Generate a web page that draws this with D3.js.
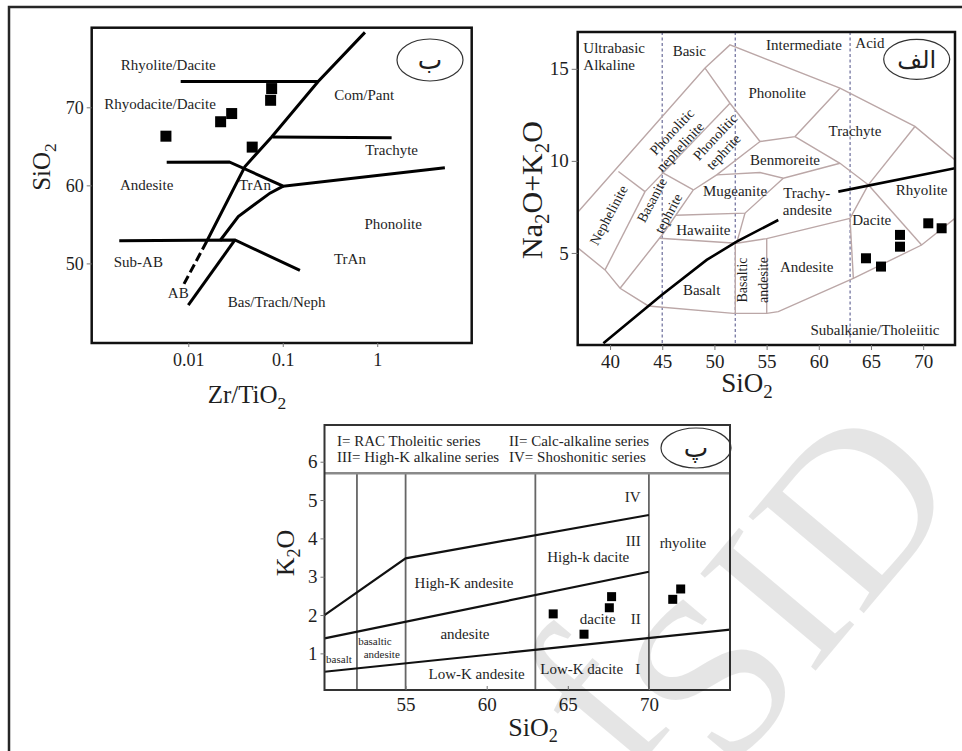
<!DOCTYPE html>
<html>
<head>
<meta charset="utf-8">
<script src="https://cdn.jsdelivr.net/npm/d3@7"></script>
<style>
  body { margin: 0; background: #fff; }
  svg text { font-family: "Liberation Serif", "Times New Roman", serif; fill: #1e1e1e; }
</style>
</head>
<body>
<div id="chart"></div>
<script>
// ---- panel ب : SiO2 vs Zr/TiO2 (Winchester & Floyd) ----
const wfTicksX = [0.01, 0.1, 1];
const wfTicksY = [50, 60, 70];
const wfSamples = [[0.0763, 72.4], [0.0744, 70.9], [0.0288, 69.2], [0.022, 68.15], [0.0058, 66.3], [0.0475, 64.9]];
const wfSolidLines = [
  [[0.00831, 73.3], [0.2373, 73.3]],
  [[0.741, 79.6], [0.237, 73.3], [0.0763, 66.2], [0.0398, 62.4], [0.01565, 52.8]],
  [[0.0782, 66.2], [1.42, 66.1]],
  [[0.00591, 62.95], [0.02715, 63.0], [0.1012, 59.9], [5.2, 62.26]],
  [[0.02164, 52.9], [0.0338, 56.0], [0.0732, 59.0], [0.1012, 59.9]],
  [[0.00186, 52.9], [0.0312, 53.0], [0.152, 49.1]],
  [[0.01, 44.65], [0.0312, 53.0]]
];
const wfDashedLines = [[[0.01565, 52.8], [0.00885, 47.2]]];
const wfFieldNames = ["Rhyolite/Dacite", "Rhyodacite/Dacite", "Com/Pant", "Trachyte", "Andesite", "TrAn",
  "Phonolite", "Sub-AB", "TrAn", "AB", "Bas/Trach/Neph"];
const wfFieldAt = [[0.00614, 75.42], [0.00502, 70.51], [0.728, 71.67], [1.42, 64.53], [0.00363, 60.04], [0.0508, 60.04],
  [1.476, 55.04], [0.00296, 50.21], [0.514, 50.64], [0.00784, 46.28], [0.0861, 45.08]];

// ---- panel الف : TAS ----
const tasTicksX = [40, 45, 50, 55, 60, 65, 70];
const tasTicksY = [5, 10, 15];
const tasDividers = [45, 52, 63];
const tasSamples = [[64.52, 4.71], [65.96, 4.26], [67.78, 5.98], [67.78, 5.34], [70.49, 6.61], [71.77, 6.34]];
const tasFieldLines = [
  [[36.97, 7.25], [49.10, 15.04], [51.49, 16.30], [62.03, 13.95], [69.21, 11.87], [73.05, 10.05]],
  [[49.10, 15.04], [51.49, 13.13], [54.37, 11.05]],
  [[51.49, 13.13], [43.35, 8.33]],
  [[40.80, 9.42], [43.35, 8.33]],
  [[43.35, 8.33], [39.52, 4.08]],
  [[45.11, 9.33], [47.98, 8.42]],
  [[47.98, 8.42], [45.11, 6.07], [40.96, 3.08]],
  [[36.97, 5.25], [39.52, 4.08], [40.96, 3.08], [43.67, 2.12], [51.81, 1.72], [55.01, 1.72], [56.12, 1.81],
   [63.31, 3.62], [69.85, 5.43], [73.05, 6.88]],
  [[54.37, 11.05], [50.22, 9.24], [47.98, 8.42]],
  [[50.22, 9.24], [54.37, 9.37], [56.60, 9.06], [62.03, 9.87]],
  [[54.37, 11.05], [57.72, 11.32], [62.03, 13.95]],
  [[57.72, 11.32], [62.03, 9.87], [64.74, 8.70]],
  [[64.74, 8.70], [69.21, 11.87]],
  [[64.74, 8.70], [69.85, 5.43]],
  [[64.74, 8.70], [62.99, 6.88], [63.31, 3.62]],
  [[46.3, 7.05], [52.93, 7.16], [56.60, 9.06]],
  [[52.93, 7.16], [52.13, 5.53]],
  [[44.75, 5.80], [52.13, 5.53], [55.01, 5.78], [62.99, 6.88]],
  [[52.0, 5.53], [52.0, 1.72]],
  [[55.01, 5.78], [55.01, 1.72]]
];
const tasAlkalineLine = [
  [[39.36, 0.09], [44.95, 2.72], [49.26, 4.62], [52.13, 5.62], [56.12, 6.79]],
  [[61.87, 8.33], [73.05, 9.60]]
];
const tasGroupNames = ["Ultrabasic", "Alkaline", "Basic", "Intermediate", "Acid"];
const tasGroupAt = [[37.44, 16.12], [37.44, 15.21], [47.6, 15.99], [58.58, 16.3], [64.9, 16.39]];
const tasFieldNames = ["Phonolite", "Trachyte", "Benmoreite", "Mugeanite", "Trachy-", "andesite", "Rhyolite",
  "Hawaiite", "Dacite", "Andesite", "Basalt", "Subalkanie/Tholeiitic"];
const tasFieldAt = [[56.02, 13.7], [63.47, 11.64], [56.76, 10.05], [51.97, 8.38], [58.84, 8.27], [58.9, 7.33],
  [69.86, 8.42], [48.94, 6.25], [65.07, 6.79], [58.84, 4.25], [48.78, 2.99], [65.38, 0.85]];
const tasSlantNames = ["Phonolitic", "nephelinite", "Phonolitic", "tephrite", "Nephelinite", "Basanite", "tephrite",
  "Basaltic", "andesite"];
const tasSlantAt = [[45.91, 11.59], [46.7, 10.77], [50.06, 11.31], [50.85, 10.5], [39.84, 7.06], [43.99, 7.88],
  [45.58, 7.15], [52.61, 3.53], [54.63, 3.53]];
const tasSlantAngle = [-47, -47, -47, -47, -62, -62, -62, -90, -90];

// ---- panel پ : K2O vs SiO2 ----
const pkTicksX = [55, 60, 65, 70];
const pkTicksY = [1, 2, 3, 4, 5, 6];
const pkDividers = [52, 55, 63, 70];
const pkSamples = [[64.1, 2.03], [66.0, 1.50], [67.56, 2.19], [67.7, 2.48], [71.47, 2.41], [71.96, 2.68]];
const pkSeriesLines = [
  [[50, 2.0], [55, 3.48], [70, 4.61]],
  [[50, 1.39], [70, 3.13]],
  [[50, 0.52], [75, 1.62]]
];
const pkLegend = [["I= RAC Tholeitic series", "II= Calc-alkaline series"],
  ["III= High-K alkaline series", "IV= Shoshonitic series"]];
const pkFieldNames = ["IV", "III", "rhyolite", "High-k dacite", "High-K andesite", "dacite", "II", "andesite",
  "Low-K andesite", "Low-K dacite", "I"];
const pkFieldAt = [[69.0, 5.09], [69.04, 3.94], [72.1, 3.89], [66.26, 3.52], [58.6, 2.83], [66.84, 1.9],
  [69.19, 1.9], [58.66, 1.52], [59.38, 0.48], [65.86, 0.59], [69.31, 0.61]];
const pkSmallNames = ["basaltic", "andesite", "basalt"];
const pkSmallAt = [[53.11, 1.33], [53.53, 0.98], [50.89, 0.85]];

const W = 962, H = 751;
const svg = d3.select("#chart").append("svg").attr("width", W).attr("height", H);

// page frame
svg.append("path").attr("d", `M9,${H} V7 H${W}`)
  .attr("fill", "none").attr("stroke", "#262626").attr("stroke-width", 2.5);

// chemical formula with subscripts: parts = [[text, isSub], ...]
function chem(sel, parts, fs) {
  sel.style("font-size", fs + "px");
  let low = false;
  parts.forEach(p => {
    const t = sel.append("tspan").text(p[0]);
    if (p[1]) {
      t.attr("dy", fs * 0.22).style("font-size", (fs * 0.7) + "px");
      low = true;
    } else if (low) {
      t.attr("dy", -fs * 0.22);
      low = false;
    }
  });
  return sel;
}

function squares(g, data, x, y, s) {
  g.selectAll("rect.pt").data(data).join("rect")
    .attr("class", "pt")
    .attr("x", d => x(d[0]) - s / 2).attr("y", d => y(d[1]) - s / 2)
    .attr("width", s).attr("height", s).attr("fill", "#000");
}

function styleAxis(g, size) {
  g.select(".domain").remove();
  g.selectAll(".tick line").attr("stroke", "#777");
  g.selectAll(".tick text").style("font-size", size + "px").attr("fill", "#222")
    .style("font-family", "Liberation Serif, serif");
}

function oval(g, cx, cy, rx, ry, label, fs) {
  g.append("ellipse").attr("cx", cx).attr("cy", cy).attr("rx", rx).attr("ry", ry)
    .attr("fill", "#fff").attr("stroke", "#333").attr("stroke-width", 1.2);
  g.append("text").attr("x", cx).attr("y", cy).attr("text-anchor", "middle").attr("dy", "0.35em")
    .style("font-family", "DejaVu Sans, sans-serif").style("font-size", fs + "px").text(label);
}

// ================= panel ب =================
{
  const x = d3.scaleLog().domain([0.00095, 10]).range([91.7, 471.7]);
  const y = d3.scaleLinear().domain([39.8, 80.2]).range([343, 27.7]);
  const g = svg.append("g");
  const line = d3.line().x(d => x(d[0])).y(d => y(d[1]));

  g.append("rect").attr("x", 91.7).attr("y", 27.7).attr("width", 380).attr("height", 315.3)
    .attr("fill", "#fff").attr("stroke", "#111").attr("stroke-width", 2.5);

  g.selectAll("path.b").data(wfSolidLines).join("path").attr("class", "b")
    .attr("d", line).attr("fill", "none").attr("stroke", "#000").attr("stroke-width", 3);
  g.selectAll("path.bd").data(wfDashedLines).join("path").attr("class", "bd")
    .attr("d", line).attr("fill", "none").attr("stroke", "#000").attr("stroke-width", 3)
    .attr("stroke-dasharray", "9,4");

  g.selectAll("text.f").data(wfFieldNames).join("text").attr("class", "f")
    .attr("x", (d, i) => x(wfFieldAt[i][0])).attr("y", (d, i) => y(wfFieldAt[i][1]))
    .attr("text-anchor", "middle").attr("dy", "0.35em").style("font-size", "15px").text(d => d);

  squares(g, wfSamples, x, y, 11);
  oval(g, 430, 60, 33, 21, "ب", 26);

  const ax = g.append("g").attr("transform", "translate(0,343)")
    .call(d3.axisBottom(x).tickValues(wfTicksX).tickSize(4).tickPadding(6).tickFormat(d3.format("")));
  styleAxis(ax, 18);
  const ay = g.append("g").attr("transform", "translate(91.7,0)")
    .call(d3.axisLeft(y).tickValues(wfTicksY).tickSize(5).tickPadding(3));
  styleAxis(ay, 18);

  chem(g.append("text").attr("x", 247).attr("y", 403).attr("text-anchor", "middle"),
    [["Zr/TiO"], ["2", 1]], 25);
  chem(g.append("text").attr("transform", "translate(50,167) rotate(-90)").attr("text-anchor", "middle"),
    [["SiO"], ["2", 1]], 25);
}

// ================= panel الف =================
{
  const x = d3.scaleLinear().domain([36.9, 73.05]).range([577.7, 955]);
  const y = d3.scaleLinear().domain([0, 17]).range([345, 32]);
  const g = svg.append("g");
  const line = d3.line().x(d => x(d[0])).y(d => y(d[1]));

  g.append("clipPath").attr("id", "tasClip").append("rect")
    .attr("x", 577.7).attr("y", 32).attr("width", 377.3).attr("height", 313);
  g.append("rect").attr("x", 577.7).attr("y", 32).attr("width", 377.3).attr("height", 313).attr("fill", "#fff");

  const inner = g.append("g").attr("clip-path", "url(#tasClip)");
  inner.selectAll("line.div").data(tasDividers).join("line").attr("class", "div")
    .attr("x1", d => x(d)).attr("x2", d => x(d)).attr("y1", 32).attr("y2", 345)
    .attr("stroke", "#7f80a8").attr("stroke-width", 1.4).attr("stroke-dasharray", "3,2.5");
  inner.selectAll("path.fl").data(tasFieldLines).join("path").attr("class", "fl")
    .attr("d", line).attr("fill", "none").attr("stroke", "#bba7a7").attr("stroke-width", 1.4);
  inner.selectAll("path.al").data(tasAlkalineLine).join("path").attr("class", "al")
    .attr("d", line).attr("fill", "none").attr("stroke", "#000").attr("stroke-width", 2.6);

  g.selectAll("text.grp").data(tasGroupNames).join("text").attr("class", "grp")
    .attr("x", (d, i) => x(tasGroupAt[i][0])).attr("y", (d, i) => y(tasGroupAt[i][1]))
    .attr("text-anchor", (d, i) => i < 2 ? "start" : "middle").attr("dy", "0.35em")
    .style("font-size", "15px").text(d => d);
  g.selectAll("text.f").data(tasFieldNames).join("text").attr("class", "f")
    .attr("x", (d, i) => x(tasFieldAt[i][0])).attr("y", (d, i) => y(tasFieldAt[i][1]))
    .attr("text-anchor", "middle").attr("dy", "0.35em").style("font-size", "15px").text(d => d);
  g.selectAll("text.s").data(tasSlantNames).join("text").attr("class", "s")
    .attr("transform", (d, i) => `translate(${x(tasSlantAt[i][0])},${y(tasSlantAt[i][1])}) rotate(${tasSlantAngle[i]})`)
    .attr("text-anchor", "middle").attr("dy", "0.35em").style("font-size", "14px").text(d => d);

  squares(g, tasSamples, x, y, 10);
  oval(g, 916.7, 59.3, 33, 20, "الف", 24);

  g.append("rect").attr("x", 577.7).attr("y", 32).attr("width", 377.3).attr("height", 313)
    .attr("fill", "none").attr("stroke", "#111").attr("stroke-width", 2.5);

  const ax = g.append("g").attr("transform", "translate(0,345)")
    .call(d3.axisBottom(x).tickValues(tasTicksX).tickSize(5).tickPadding(5));
  styleAxis(ax, 19);
  const ay = g.append("g").attr("transform", "translate(577.7,0)")
    .call(d3.axisLeft(y).tickValues(tasTicksY).tickSize(6).tickPadding(3));
  styleAxis(ay, 19);

  chem(g.append("text").attr("x", 747).attr("y", 392).attr("text-anchor", "middle"),
    [["SiO"], ["2", 1]], 27);
  chem(g.append("text").attr("transform", "translate(542,190) rotate(-90)").attr("text-anchor", "middle"),
    [["Na"], ["2", 1], ["O+K"], ["2", 1], ["O"]], 30);
}

// ================= panel پ =================
{
  const x = d3.scaleLinear().domain([50, 75]).range([324.5, 730]);
  const y = d3.scaleLinear().domain([0, 7]).range([691.7, 423.4]);
  const g = svg.append("g");
  const line = d3.line().x(d => x(d[0])).y(d => y(d[1]));
  const sepY = 473.3;

  g.append("rect").attr("x", 324.5).attr("y", 425).attr("width", 405.5).attr("height", 265).attr("fill", "#fff");

  g.selectAll("line.div").data(pkDividers).join("line").attr("class", "div")
    .attr("x1", d => x(d)).attr("x2", d => x(d)).attr("y1", sepY).attr("y2", 690)
    .attr("stroke", "#666").attr("stroke-width", 1.8);
  g.selectAll("path.sl").data(pkSeriesLines).join("path").attr("class", "sl")
    .attr("d", line).attr("fill", "none").attr("stroke", "#111").attr("stroke-width", 2.2);

  g.append("line").attr("x1", 324.5).attr("x2", 730).attr("y1", sepY).attr("y2", sepY)
    .attr("stroke", "#8a8a8a").attr("stroke-width", 2.5);

  pkLegend.forEach((row, r) => {
    g.selectAll(null).data(row).join("text")
      .attr("x", (d, i) => i === 0 ? 337 : 509).attr("y", 441 + r * 16)
      .attr("dy", "0.35em").style("font-size", "15px").text(d => d);
  });

  g.selectAll("text.f").data(pkFieldNames).join("text").attr("class", "f")
    .attr("x", (d, i) => x(pkFieldAt[i][0])).attr("y", (d, i) => y(pkFieldAt[i][1]))
    .attr("text-anchor", "middle").attr("dy", "0.35em").style("font-size", "15px").text(d => d);
  g.selectAll("text.sm").data(pkSmallNames).join("text").attr("class", "sm")
    .attr("x", (d, i) => x(pkSmallAt[i][0])).attr("y", (d, i) => y(pkSmallAt[i][1]))
    .attr("text-anchor", "middle").attr("dy", "0.35em").style("font-size", "11px").text(d => d);

  squares(g, pkSamples, x, y, 9);
  oval(g, 696, 448, 35, 20, "پ", 26);

  g.append("rect").attr("x", 324.5).attr("y", 425).attr("width", 405.5).attr("height", 265)
    .attr("fill", "none").attr("stroke", "#333").attr("stroke-width", 2);

  const ax = g.append("g").attr("transform", "translate(0,690)")
    .call(d3.axisBottom(x).tickValues(pkTicksX).tickSizeInner(-4).tickSizeOuter(0).tickPadding(8));
  styleAxis(ax, 19);
  const ay = g.append("g").attr("transform", "translate(324.5,0)")
    .call(d3.axisLeft(y).tickValues(pkTicksY).tickSize(4).tickPadding(3).tickFormat(d3.format("d")));
  styleAxis(ay, 19);

  chem(g.append("text").attr("x", 533).attr("y", 736).attr("text-anchor", "middle"),
    [["SiO"], ["2", 1]], 26);
  chem(g.append("text").attr("transform", "translate(294,553) rotate(-90)").attr("text-anchor", "middle"),
    [["K"], ["2", 1], ["O"]], 26);
}

// translucent watermark laid over the lower panel
const wm = svg.append("g").style("pointer-events", "none");
wm.append("text")
  .attr("transform", "translate(728,775) rotate(-50)")
  .style("font-size", "230px").style("fill", "#000").style("fill-opacity", 0.1)
  .text("SID");
wm.append("text")
  .attr("transform", "translate(590,700) rotate(-50)")
  .attr("text-anchor", "middle").attr("dy", "0.35em")
  .style("font-size", "230px").style("fill", "#000").style("fill-opacity", 0.1)
  .text("f");
</script>
</body>
</html>
